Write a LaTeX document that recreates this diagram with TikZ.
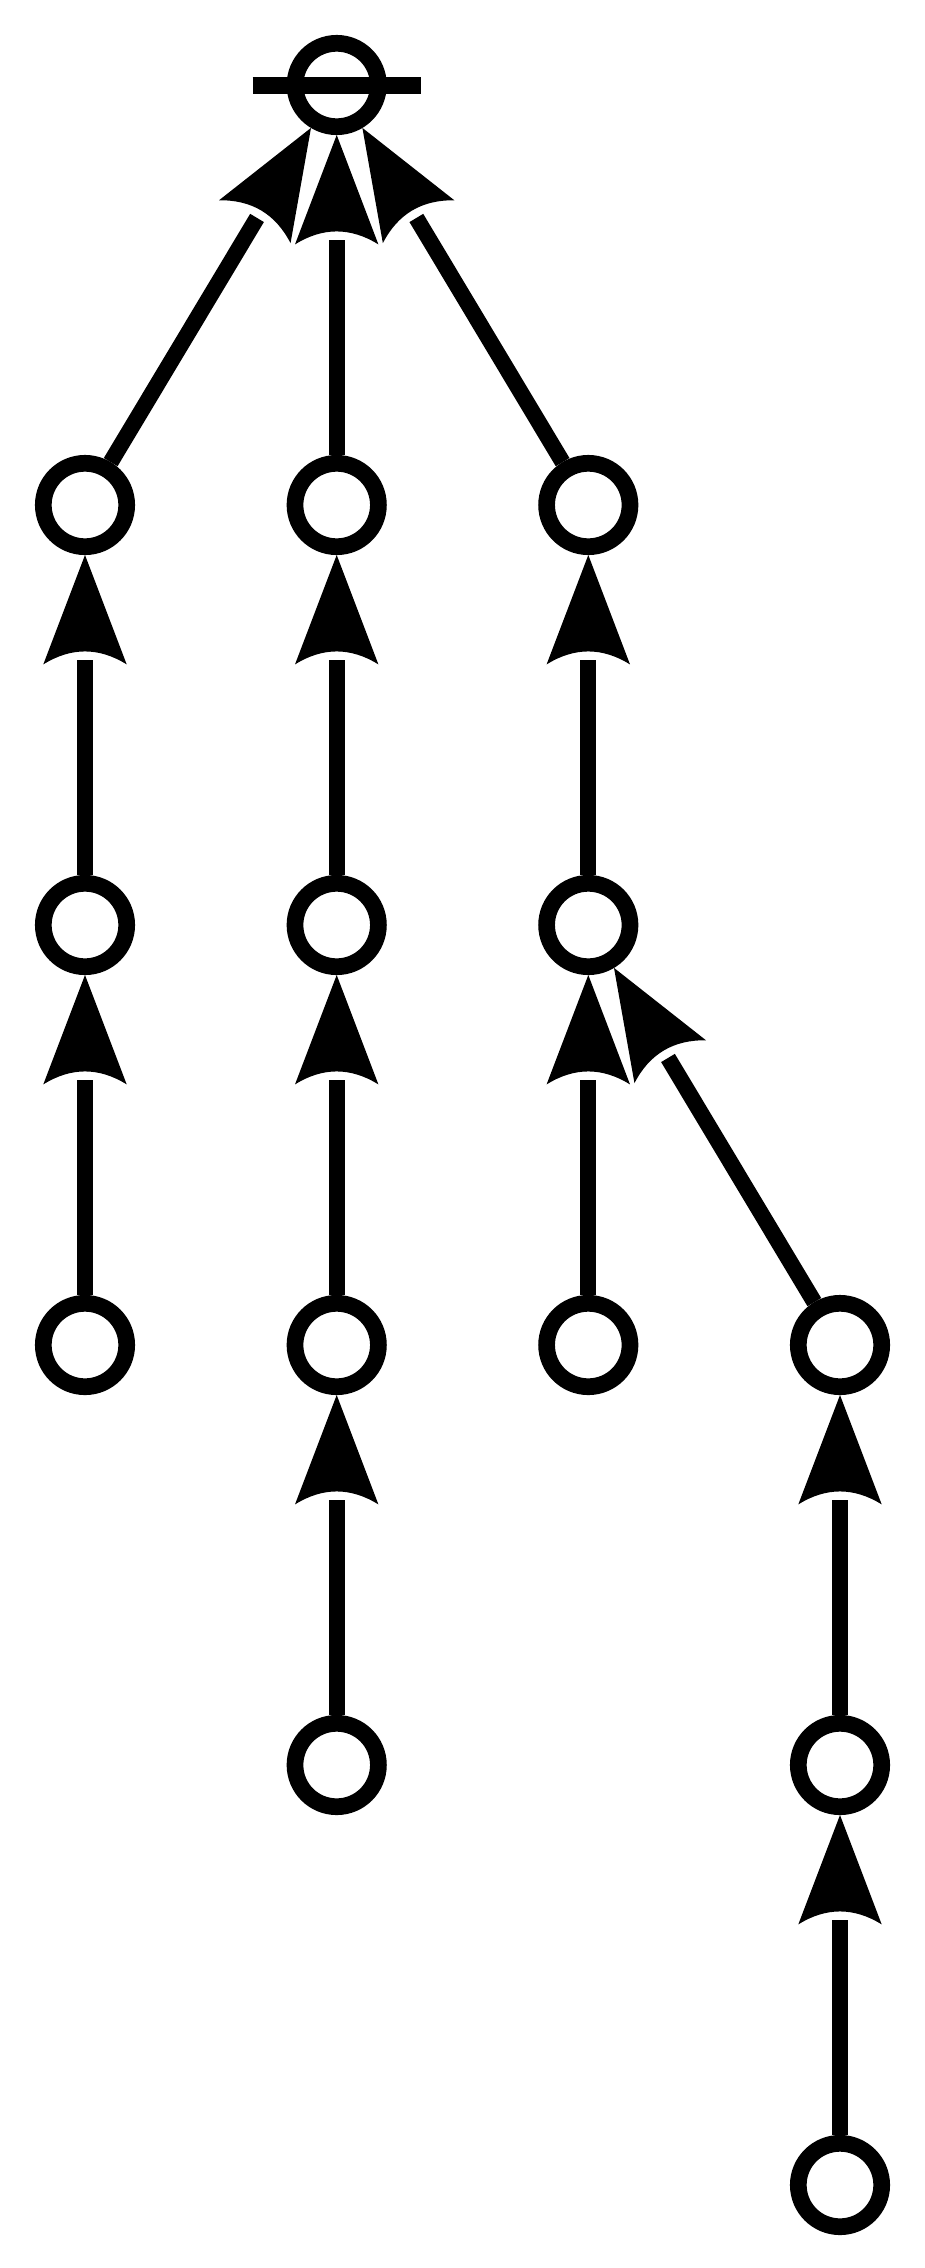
\documentclass[tikz,border=0pt]{standalone}
\usetikzlibrary{calc}
\tikzset{
  vtx/.style={circle,draw=black,fill=white,line width=16.7pt,minimum size=83.4pt,inner sep=0pt},
  conn/.style={line width=16pt,black},
  rootbar/.style={line width=16.7pt,black}
}
\newcommand\myedge[2]{%
  \draw[conn] ($(#1)!50pt!(#2)$) -- ($(#2)!155pt!(#1)$);
  \coordinate (wbase) at ($(#2)!159.4pt!(#1)$);
  \coordinate (cbase) at ($(#2)!142.1pt!(#1)$);
  \fill[black] ($(#2)!50pt!(#1)$) -- ($(wbase)!41.7pt!90:(#1)$)
     .. controls ($(cbase)!13.9pt!90:(#1)$) and ($(cbase)!13.9pt!-90:(#1)$)
     .. ($(wbase)!41.7pt!-90:(#1)$) -- cycle;
}
\begin{document}
\begin{tikzpicture}[x=1pt,y=1pt]
\useasboundingbox (0,0) rectangle (924,-2268);
\fill[white] (0,0) rectangle (924,-2268);
% nodes
\node[vtx] (R)  at (336.7,-85) {};
\node[vtx] (A1) at (85,-505) {};
\node[vtx] (B1) at (336.7,-505) {};
\node[vtx] (C1) at (588.3,-505) {};
\node[vtx] (A2) at (85,-925) {};
\node[vtx] (B2) at (336.7,-925) {};
\node[vtx] (C2) at (588.3,-925) {};
\node[vtx] (A3) at (85,-1345) {};
\node[vtx] (B3) at (336.7,-1345) {};
\node[vtx] (C3) at (588.3,-1345) {};
\node[vtx] (D3) at (840,-1345) {};
\node[vtx] (B4) at (336.7,-1765) {};
\node[vtx] (D4) at (840,-1765) {};
\node[vtx] (D5) at (840,-2185) {};
% bar across root
\draw[rootbar] ($(R.center)+(-84,-0.7)$) -- ($(R.center)+(84,-0.7)$);
% edges (child, parent)
\myedge{A1}{R}
\myedge{B1}{R}
\myedge{C1}{R}
\myedge{A2}{A1}
\myedge{A3}{A2}
\myedge{B2}{B1}
\myedge{B3}{B2}
\myedge{B4}{B3}
\myedge{C2}{C1}
\myedge{C3}{C2}
\myedge{D3}{C2}
\myedge{D4}{D3}
\myedge{D5}{D4}
\end{tikzpicture}
\end{document}
